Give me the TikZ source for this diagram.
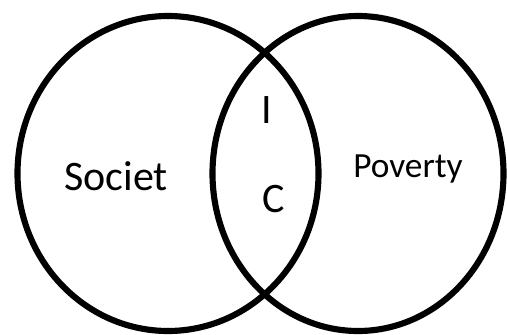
\documentclass[tikz,border=0pt]{standalone}
\usepackage{fontspec}
\setmainfont{Carlito}
\usetikzlibrary{positioning}
\tikzset{
    % Sets and labels
    setline/.style = {draw=black, line width=4.6pt},
    setlabel/.style = {font=\fontsize{31.5}{36}\selectfont, inner sep=0pt, anchor=base west},
    smalllabel/.style = {setlabel, font=\fontsize{26.5}{30}\selectfont},
    midlabel/.style = {font=\fontsize{31.5}{36}\selectfont, inner sep=0pt, anchor=base}
}

\begin{document}
\begin{tikzpicture}[x=0.75pt, y=-0.75pt]
    \useasboundingbox (0,0) rectangle (507,335);

    % Sets
    \draw [setline] (168,173.5) ellipse [x radius=150.5, y radius=157.5];
    \draw [setline] (358,173.5) ellipse [x radius=145.5, y radius=157.5];

    % Labels
    \node (society) [setlabel] at (64,190) {Societ};
    \node (poverty) [smalllabel] at (353,177) {Poverty};
    \node (inter) [midlabel] at (267,123) {I};
    \node (common) [midlabel] at (273.5,212) {C};
\end{tikzpicture}
\end{document}
